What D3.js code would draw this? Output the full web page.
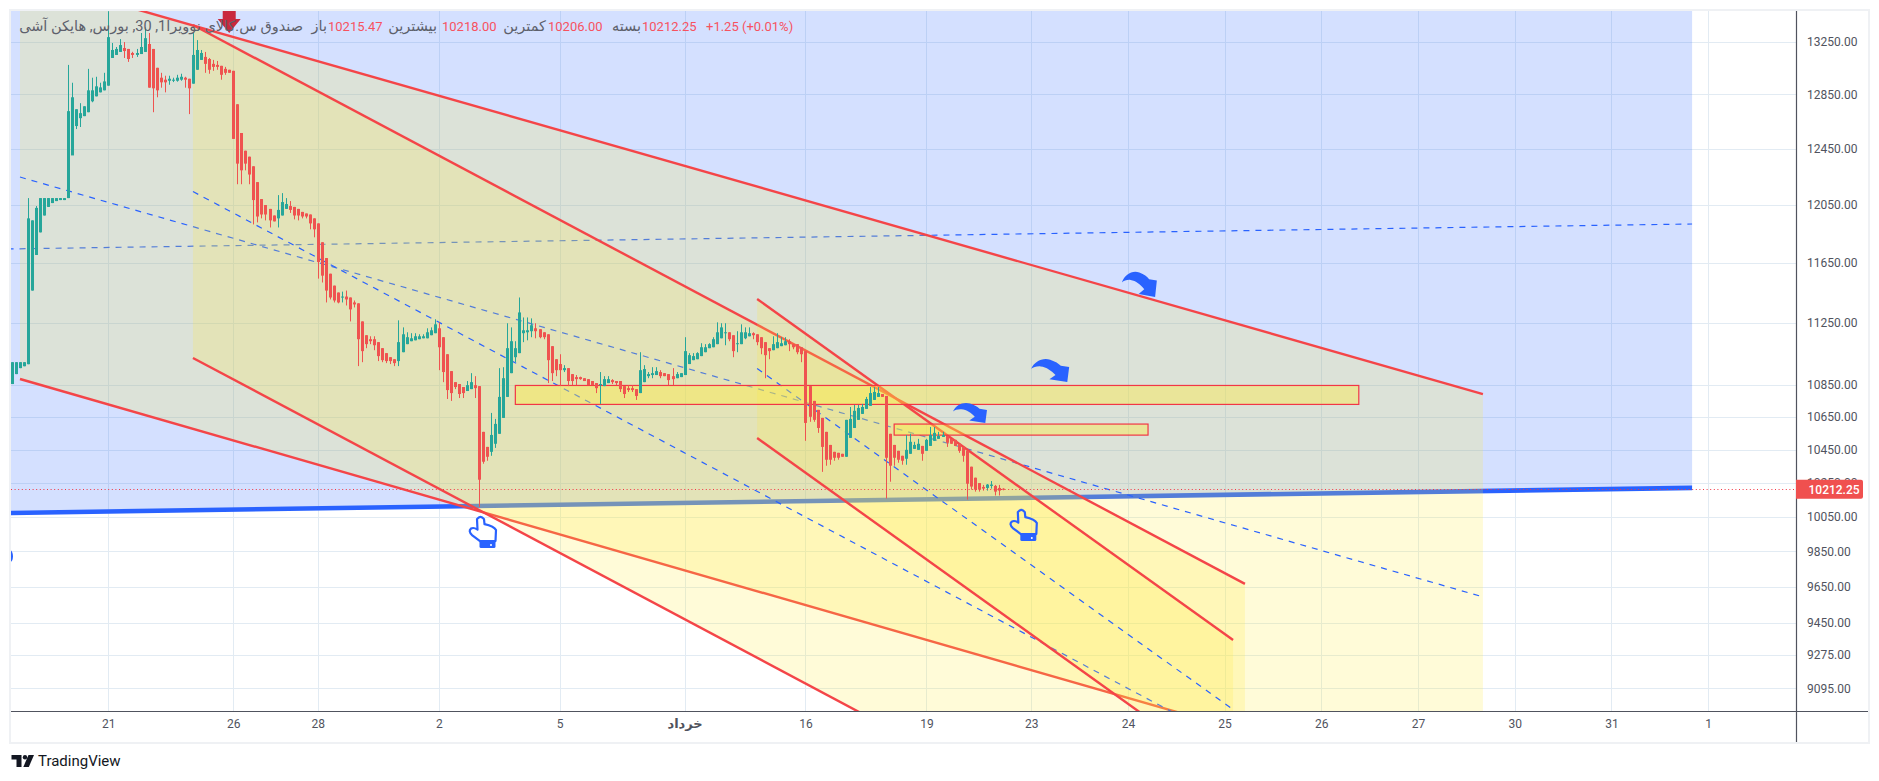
<!DOCTYPE html>
<html><head><meta charset="utf-8">
<script src="https://cdnjs.cloudflare.com/ajax/libs/d3/7.8.5/d3.min.js"></script>
<style>
html,body{margin:0;padding:0;background:#fff;overflow:hidden}
svg{display:block}
text{font-family:Roboto,"DejaVu Sans",sans-serif}
</style></head><body>
<svg id="c" width="1879" height="781"></svg>
<script>
const opens=[10857,10920,10958,10970,10983,11464,11704,11859,11976,12036,12063,12077,12084,12084,12098,12402,12616,12674,12689,12718,
12799,12836,12866,12881,12916,13126,13149,13172,13202,13195,13164,13149,13156,13172,13233,13195,13051,12976,12961,12953,
12953,12953,12961,12976,12968,12931,13036,13111,13134,13118,13081,13073,13066,13043,13036,13028,12777,12565,12436,12393,
12324,12211,12091,12049,12022,11976,11956,11976,12022,12042,12036,12022,12001,11990,11983,11956,11921,11791,11683,11577,
11497,11451,11418,11424,11418,11385,11379,11260,11170,11144,11144,11125,11086,11054,11028,11015,11003,11060,11112,11131,
11137,11144,11150,11150,11170,11183,11215,11157,11047,10939,10869,10857,10838,10813,10825,10850,10844,10559,10467,10437,
10486,10547,10645,10776,10926,11028,11054,11183,11189,11196,11215,11209,11189,11176,11099,11015,10984,10945,10958,10920,
10901,10901,10894,10888,10876,10863,10850,10844,10863,10882,10876,10876,10844,10831,10831,10825,10800,10869,10907,10914,
10914,10933,10926,10920,10907,10894,10901,10914,10984,11009,11015,11035,11060,11086,11092,11112,11150,11183,11189,11170,
11112,11112,11150,11163,11183,11176,11157,11125,11086,11073,11086,11099,11105,11131,11112,11112,11092,11067,10844,10751,
10695,10645,10559,10479,10437,10431,10425,10407,10522,10583,10633,10670,10701,10720,10757,10776,10794,10782,10547,10479,
10443,10413,10395,10425,10455,10449,10473,10443,10473,10504,10516,10528,10534,10516,10510,10486,10467,10443,10347,10281,
10249,10226,10220,10232,10232,10220,10215.47];
const highs=[10996,10996,10996,10996,12098,11942,12042,12098,12098,12098,12098,12098,12098,12098,13073,12938,12740,12785,12762,13043,
12976,12983,12938,13013,13488,13241,13210,13271,13248,13195,13173,13195,13318,13363,13318,13195,13051,13013,12991,12991,
12976,12998,13006,12983,12968,13318,13263,13187,13172,13126,13111,13103,13066,13058,13036,13028,12777,12565,12436,12393,
12324,12211,12091,12049,12022,11976,12119,12133,12098,12077,12036,12022,12001,11990,11983,11956,11921,11791,11683,11577,
11497,11451,11457,11464,11418,11398,11379,11260,11170,11163,11163,11125,11086,11054,11028,11015,11267,11221,11189,11183,
11183,11176,11176,11215,11221,11274,11254,11157,11047,10939,10869,10857,10838,10876,10926,10907,10844,10559,10467,10676,
10639,10958,10964,11248,11221,11131,11418,11286,11286,11280,11248,11209,11189,11176,11099,11015,11047,10977,10958,10920,
10914,10904,10894,10888,10876,10863,10933,10907,10907,10888,10876,10876,10844,10850,10850,10825,11060,10977,10933,10964,
10964,10945,10926,10920,10958,10933,10926,11157,11054,11054,11060,11118,11112,11118,11157,11254,11248,11248,11189,11170,
11196,11241,11221,11221,11189,11176,11157,11125,11086,11163,11183,11157,11157,11144,11112,11112,11092,11067,10844,10751,
10695,10645,10559,10479,10437,10431,10425,10633,10713,10726,10726,10732,10776,10838,10838,10838,10794,10782,10547,10479,
10443,10413,10540,10547,10498,10516,10473,10516,10589,10589,10559,10559,10534,10516,10510,10486,10467,10443,10347,10281,
10249,10238,10243,10261,10238,10238,10218];
const lows=[10857,10920,10958,10970,10983,11464,11704,11859,11976,12036,12063,12077,12084,12084,12098,12407,12594,12609,12689,12718,
12792,12836,12866,12881,12916,13126,13149,13172,13126,13096,13126,13134,13156,13172,12901,12718,12829,12901,12866,12923,
12943,12946,12953,12901,12704,12931,13036,13111,13013,13006,13028,13036,12961,12998,13013,12522,12196,12196,12295,12196,
11914,11928,11956,11942,11893,11935,11893,11976,12022,11994,11949,11942,11956,11956,11880,11825,11544,11518,11385,11405,
11385,11379,11385,11365,11260,11352,10971,10996,11086,11112,11073,11003,10996,10990,10984,10971,10971,11060,11112,11131,
11137,11144,11150,11150,11170,11183,10945,10869,10763,10751,10825,10769,10769,10813,10825,10769,10108,10365,10383,10413,
10461,10547,10645,10776,10926,10996,11054,11125,11137,11157,11150,11150,11144,10863,10876,10907,10844,10933,10844,10850,
10850,10884,10876,10850,10850,10800,10732,10844,10863,10857,10850,10807,10769,10807,10807,10757,10800,10869,10894,10894,
10914,10894,10907,10850,10850,10894,10901,10914,10984,11009,11015,11035,11060,11086,11092,11112,11150,11105,11131,11028,
11060,11112,11144,11163,11144,11105,11047,10894,11015,11073,11086,11099,11105,11067,11079,11047,10996,10504,10621,10621,
10553,10316,10353,10359,10383,10389,10407,10407,10522,10583,10633,10670,10701,10720,10757,10776,10776,10157,10257,10353,
10371,10359,10359,10425,10455,10449,10383,10443,10473,10504,10516,10528,10467,10486,10473,10431,10377,10151,10210,10198,
10198,10204,10204,10216,10175,10175,10206];
const closes=[10996,10996,10996,10996,11956,11942,12029,12098,12098,12098,12098,12098,12098,12098,12726,12829,12740,12711,12762,12881,
12881,12911,12903,12948,13286,13187,13195,13225,13179,13118,13149,13164,13210,13278,12901,12896,12881,12941,12941,12968,
12961,12976,12983,12961,12896,13149,13187,13164,13081,13036,13058,13058,12998,13013,13013,12522,12343,12295,12343,12265,
12084,11969,11983,11983,11942,11935,12015,12070,12056,12015,11976,11976,11969,11969,11921,11880,11656,11564,11464,11418,
11398,11385,11424,11405,11339,11372,11144,11067,11112,11131,11105,11035,11009,11003,11003,10990,11125,11176,11157,11150,
11163,11163,11163,11189,11202,11241,11092,10933,10819,10800,10838,10794,10800,10850,10869,10831,10269,10377,10407,10540,
10608,10776,10894,11086,11131,11086,11319,11202,11202,11235,11196,11157,11157,11009,10926,10945,10945,10958,10876,10876,
10888,10888,10876,10850,10850,10831,10857,10888,10888,10869,10863,10825,10794,10819,10819,10782,10945,10952,10920,10926,
10939,10907,10907,10882,10888,10920,10926,11067,11041,11035,11054,11092,11092,11112,11144,11189,11221,11189,11144,11067,
11118,11189,11189,11183,11170,11125,11086,11041,11067,11112,11125,11118,11131,11112,11092,11060,11047,10614,10652,10633,
10583,10467,10389,10389,10401,10401,10407,10633,10639,10689,10707,10713,10763,10800,10807,10800,10776,10401,10353,10401,
10389,10383,10449,10498,10479,10486,10425,10510,10540,10553,10534,10540,10492,10486,10473,10443,10413,10245,10228,10210,
10210,10216,10240,10240,10198,10204,10212.25];

const priceTicks=[13250,12850,12450,12050,11650,11250,10850,10650,10450,10250,10050,9850,9650,9450,9275,9095];
const timeTickBars=[24,55,76,106,136,167,197,227,253,277,301,325,349,373,397,421];
const timeTickLabels=["21","26","28","2","5","خرداد","16","19","23","24","25","26","27","30","31","1"];
const lastPrice=10212.25;

// Drawings, as [bar index, price] anchors
const blueChannelTop=[[-1,13695],[417,13896]];
const blueChannelMid=[[-1,11745],[417,11917]];
const blueChannelBot=[[-1,10072],[417,10220]];
const wideChannelTop=[[2.08,13767],[365.1,10794]];
const wideChannelMid=[[2.08,12247],[365.1,9592]];
const wideChannelBot=[[2.08,10889],[365.1,8522]];
const midChannelTop=[[45,13380],[306.05,9665]];
const midChannelMid=[[45,12144],[306.05,8771]];
const midChannelBot=[[45,11023],[306.05,7961]];
const steepChannelTop=[[185,11408],[303.1,9354]];
const steepChannelMid=[[185,10955],[303.1,8983]];
const steepChannelBot=[[185,10521],[303.1,8627]];
const zoneBars=[[125,334.3],[219,282]];
const zonePrices=[[10848,10729],[10607,10539]];
const curvedArrowAnchors=[[275.5,11589],[253,11016],[233.6,10738]];
const curvedArrowSizes=[[35,25],[38,23],[34,20]];
const handAnchors=[[113.5,10054],[247.7,10095]];
const downArrowAnchor=[54,13318];
const edgeBlipAnchor=[-0.4,9822];

const legendTitle="صندوق س.کالای نوویرا1, 30, بورس, هایکن آشی";
const legendNames=["باز","بیشترین","کمترین","بسته"];
const legendValues=["10215.47","10218.00","10206.00","10212.25"];
const legendChange="+1.25 (+0.01%)";

const W=1879,H=781,L=11,T=11,R=1796,B=711,OR=1868,OB=742;
const GREEN="#26a69a",RED="#ef5350",LINE="#f44548",BLUE="#2962ff",GRID="#e2ebf3",TXT="#50535e";
const x=d3.scaleLinear().domain([0,421]).range([11.6,1708.2]);
const y=d3.scaleLog().domain([13250,9095]).range([41.8,688.3]);
const svg=d3.select("#c");
const defs=svg.append("defs");
defs.append("clipPath").attr("id","plot").append("rect").attr("x",L).attr("y",T).attr("width",R-L).attr("height",B-T);

// Frame background and grid
svg.append("rect").attr("x",L-1).attr("y",T-1).attr("width",OR-L+2).attr("height",OB-T+2).attr("fill","#fff").attr("stroke","#eff1f4").attr("stroke-width",2);
const grid=svg.append("g").attr("stroke",GRID).attr("stroke-width",1);
grid.selectAll("line.h").data(priceTicks).join("line").attr("class","h")
 .attr("x1",L).attr("x2",R).attr("y1",d=>Math.round(y(d))+.5).attr("y2",d=>Math.round(y(d))+.5);
grid.selectAll("line.v").data(timeTickBars).join("line").attr("class","v")
 .attr("y1",T).attr("y2",B).attr("x1",d=>Math.round(x(d))+.5).attr("x2",d=>Math.round(x(d))+.5);

const plot=svg.append("g").attr("clip-path","url(#plot)");
const px=p=>[x(p[0]),y(p[1])];
const lineGen=d3.line().x(d=>x(d[0])).y(d=>y(d[1]));

function channel(top,mid,bot,fill,opacity,botStroke,botWidth,topStroke){
  const g=plot.append("g");
  g.append("path").attr("d",lineGen([top[0],top[1],bot[1],bot[0]])+"Z").attr("fill",fill).attr("fill-opacity",opacity);
  g.append("path").attr("d",lineGen(mid)).attr("fill","none").attr("stroke",BLUE).attr("stroke-width",1.2).attr("stroke-dasharray","6,6");
  if(topStroke) g.append("path").attr("d",lineGen(top)).attr("fill","none").attr("stroke",topStroke).attr("stroke-width",2.4);
  g.append("path").attr("d",lineGen(bot)).attr("fill","none").attr("stroke",botStroke).attr("stroke-width",botWidth);
}
channel(blueChannelTop,blueChannelMid,blueChannelBot,BLUE,.2,BLUE,4.6,null);
channel(wideChannelTop,wideChannelMid,wideChannelBot,"#ffeb3b",.2,LINE,2.4,LINE);
channel(midChannelTop,midChannelMid,midChannelBot,"#ffeb3b",.2,LINE,2.4,LINE);
channel(steepChannelTop,steepChannelMid,steepChannelBot,"#ffeb3b",.2,LINE,2.4,LINE);

// Zones
plot.selectAll("rect.zone").data(zoneBars).join("rect").attr("class","zone")
 .attr("x",d=>x(d[0])).attr("width",d=>x(d[1])-x(d[0]))
 .attr("y",(d,i)=>y(zonePrices[i][0])).attr("height",(d,i)=>y(zonePrices[i][1])-y(zonePrices[i][0]))
 .attr("fill","#ffeb3b").attr("fill-opacity",.4).attr("stroke","#f23645").attr("stroke-width",1.2);

// Candles
const bars=d3.range(opens.length);
const candle=plot.append("g");
candle.selectAll("rect.w").data(bars).join("rect").attr("class","w")
 .attr("x",i=>Math.round(x(i))).attr("width",1)
 .attr("y",i=>y(highs[i])).attr("height",i=>Math.max(1,y(lows[i])-y(highs[i])))
 .attr("fill",i=>closes[i]>=opens[i]?GREEN:RED);
candle.selectAll("rect.b").data(bars).join("rect").attr("class","b")
 .attr("x",i=>Math.round(x(i))-1).attr("width",3)
 .attr("y",i=>y(Math.max(opens[i],closes[i]))).attr("height",i=>Math.max(1,Math.abs(y(opens[i])-y(closes[i]))))
 .attr("fill",i=>closes[i]>=opens[i]?GREEN:RED);

// Last-price dotted line
svg.append("line").attr("x1",L).attr("x2",R).attr("y1",Math.round(y(lastPrice))+.5).attr("y2",Math.round(y(lastPrice))+.5)
 .attr("stroke","#f23645").attr("stroke-width",1).attr("stroke-dasharray","1,2.6");

// Icons
const arrowPath="M0 32C8 8 30 -6 50 2C64 8 72 14 78 22L100 26L95 75L48 66L64 52C54 38 40 26 25 24C15 23 6 26 0 32Z";
plot.selectAll("path.curved").data(curvedArrowAnchors).join("path").attr("class","curved")
 .attr("d",arrowPath).attr("fill",BLUE)
 .attr("transform",(d,i)=>{const c=px(d),s=curvedArrowSizes[i];return `translate(${c[0]},${c[1]}) scale(${s[0]/100},${s[1]/75})`;});
const hand=plot.selectAll("g.hand").data(handAnchors).join("g").attr("class","hand")
 .attr("transform",d=>{const c=px(d);return `translate(${c[0]},${c[1]})`;});
hand.append("path").attr("d","M8 3Q11.5 -1.5 15 3L15.5 8Q25 10 27 14L26.5 25L11 25L3 19Q-1 15 2 12.5Q4.5 11 8.5 13.5Z")
 .attr("fill","none").attr("stroke",BLUE).attr("stroke-width",2.2).attr("stroke-linejoin","round");
hand.append("rect").attr("x",10.5).attr("y",25).attr("width",16).attr("height",7).attr("rx",1.5).attr("fill",BLUE);
hand.append("circle").attr("cx",22).attr("cy",29).attr("r",1).attr("fill","#fff");
{const c=px(downArrowAnchor);
 plot.append("path").attr("fill","#c9283e")
  .attr("d",`M${c[0]-6.5} 5V19H${c[0]-11.5}L${c[0]} ${c[1]}L${c[0]+11.5} 19H${c[0]+6.5}V5Z`);}
{const c=px(edgeBlipAnchor);
 plot.append("ellipse").attr("cx",c[0]).attr("cy",c[1]).attr("rx",3).attr("ry",6).attr("fill",BLUE);}

// Axes
const yAxis=d3.axisRight(y).tickValues(priceTicks).tickSize(0).tickPadding(11).tickFormat(d=>d3.format(".2f")(d));
const gy=svg.append("g").attr("transform",`translate(${R},0)`).call(yAxis);
gy.select(".domain").remove();
gy.selectAll("text").attr("font-size",12).attr("fill",TXT).style("font-family","Roboto");
const xAxis=d3.axisBottom(x).tickValues(timeTickBars).tickSize(0).tickPadding(8).tickFormat((d,i)=>timeTickLabels[i]);
const gx=svg.append("g").attr("transform",`translate(0,${B})`).call(xAxis);
gx.select(".domain").remove();
gx.selectAll("text").attr("font-size",(d,i)=>timeTickLabels[i]==="خرداد"?13:12).attr("font-weight",(d,i)=>timeTickLabels[i]==="خرداد"?600:400).attr("fill",TXT).style("font-family",'Roboto,"DejaVu Sans"');
svg.append("line").attr("x1",L).attr("x2",OR).attr("y1",B+.5).attr("y2",B+.5).attr("stroke",TXT).attr("stroke-width",1.2);
svg.append("line").attr("x1",R+.5).attr("x2",R+.5).attr("y1",T).attr("y2",OB).attr("stroke",TXT).attr("stroke-width",1.2);

// Last price label
const ly=y(lastPrice);
svg.append("path").attr("fill","#f0504f")
 .attr("d",`M${R} ${ly-9.5}H1861a2 2 0 0 1 2 2V${ly+7.5}a2 2 0 0 1 -2 2H${R}Z`);
svg.append("text").attr("x",1808.5).attr("y",ly+4.3).attr("font-size",12).attr("font-weight",500).attr("fill","#fff").text(d3.format(".2f")(lastPrice));

// Legend
const legY=31;
const leg=svg.append("g").attr("font-size",13);
leg.append("text").attr("x",303).attr("y",legY).attr("fill","#5d606b").style("direction","rtl").attr("text-anchor","start").style("font-size","14.5px").text(legendTitle);
const nameRight=[327,437,546,641], valueLeft=[328,442,548,642];
legendNames.forEach((n,i)=>{
  leg.append("text").attr("x",nameRight[i]).attr("y",legY).attr("fill","#5d606b").style("direction","rtl").attr("text-anchor","start").style("font-size","14.5px").text(n);
  leg.append("text").attr("x",valueLeft[i]).attr("y",legY).attr("fill","#f7525f").text(legendValues[i]);
});
leg.append("text").attr("x",706).attr("y",legY).attr("fill","#f7525f").text(legendChange);

// Footer logo
const logo=svg.append("g").attr("fill","#131722");
logo.append("path").attr("d","M11.5 755H21.5V767H16.5V759.5H11.5Z");
logo.append("circle").attr("cx",25).attr("cy",757.2).attr("r",2.2);
logo.append("path").attr("d","M28.5 755H34L28.8 767H23.3Z");
svg.append("text").attr("x",38).attr("y",766).attr("font-size",15).attr("fill","#131722").text("TradingView");
</script>
</body></html>
